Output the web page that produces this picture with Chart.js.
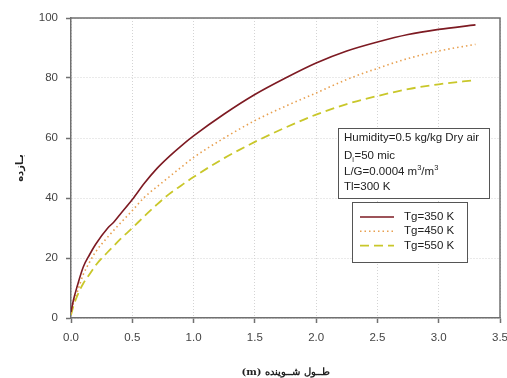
<!DOCTYPE html>
<html>
<head>
<meta charset="utf-8">
<script src="https://cdn.jsdelivr.net/npm/chart.js@4/dist/chart.umd.min.js"></script>
<style>
  html, body { margin: 0; padding: 0; background: #fff; }
  #wrap { width: 507px; height: 378px; }
</style>
</head>
<body>
<div id="wrap"><canvas id="c" width="507" height="378"></canvas></div>
<script>
// Scrubber length (m)
const lengthM = [0, 0.02, 0.05, 0.1, 0.15, 0.2, 0.3, 0.35, 0.4, 0.5, 0.6, 0.7, 0.8, 0.9, 1.0, 1.25, 1.5, 1.75, 2.0, 2.25, 2.5, 2.75, 3.0, 3.3];
// Efficiency (%) for each gas temperature
const eff350 = [2, 6, 10.5, 17, 21, 24.5, 30, 32, 34.5, 39.5, 45, 49.8, 53.8, 57.4, 60.7, 68, 74.5, 80, 85, 89, 92, 94.5, 96.2, 97.7];
const eff450 = [1.5, 5, 8.5, 14.5, 18.5, 22, 27, 29.3, 31.5, 35.8, 40.3, 43.7, 47, 50.3, 53.5, 60, 65.8, 70.6, 75, 79.5, 83.2, 86.5, 89, 91.2];
const eff550 = [1, 4, 7.3, 11.5, 14.5, 17.5, 22, 24.1, 26.2, 30, 34, 37.8, 41.3, 44.2, 47, 53.3, 58.7, 63.5, 67.8, 71.3, 74, 76.3, 77.9, 79.3];
const seriesLabels = ['Tg=350 K', 'Tg=450 K', 'Tg=550 K'];
const xTicks = [0, 0.5, 1.0, 1.5, 2.0, 2.5, 3.0, 3.5];
const yTicks = [0, 20, 40, 60, 80, 100];

const pts = ys => lengthM.map((x, i) => ({ x, y: ys[i] }));

const axisColor = '#707070';
const gridColor = '#d4d4d4';

// Frame on the top and right of the plot area
const framePlugin = {
  id: 'frame',
  afterDraw(chart) {
    const { ctx, chartArea: a } = chart;
    ctx.save();
    ctx.strokeStyle = axisColor;
    ctx.lineWidth = 1.5;
    ctx.beginPath();
    ctx.moveTo(a.left, a.top);
    ctx.lineTo(a.right, a.top);
    ctx.lineTo(a.right, a.bottom);
    ctx.stroke();
    ctx.restore();
  }
};

// Operating conditions box and the series key
const notesPlugin = {
  id: 'notes',
  afterDraw(chart) {
    const { ctx, chartArea: a } = chart;
    const font = '11.5px "Liberation Sans", Arial, sans-serif';
    const small = '7.5px "Liberation Sans", Arial, sans-serif';
    ctx.save();
    // conditions box
    const bx = a.left + 267, by = a.top + 110, bw = 151, bh = 70;
    ctx.fillStyle = '#fff';
    ctx.fillRect(bx, by, bw, bh);
    ctx.strokeStyle = '#555';
    ctx.lineWidth = 1;
    ctx.strokeRect(bx + 0.5, by + 0.5, bw, bh);
    ctx.fillStyle = '#222';
    ctx.textBaseline = 'middle';
    ctx.textAlign = 'left';
    ctx.font = font;
    const tx = bx + 6;
    ctx.fillText('Humidity=0.5 kg/kg Dry air', tx, by + 10);
    // D with subscript i
    let x = tx;
    ctx.fillText('D', x, by + 28);
    x += ctx.measureText('D').width;
    ctx.font = small;
    ctx.fillText('i', x, by + 32);
    x += ctx.measureText('i').width + 0.5;
    ctx.font = font;
    ctx.fillText('=50 mic', x, by + 28);
    // L/G with cubic metre superscripts
    x = tx;
    ctx.fillText('L/G=0.0004 m', x, by + 44);
    x += ctx.measureText('L/G=0.0004 m').width;
    ctx.font = small;
    ctx.fillText('3', x, by + 40);
    x += ctx.measureText('3').width;
    ctx.font = font;
    ctx.fillText('/m', x, by + 44);
    x += ctx.measureText('/m').width;
    ctx.font = small;
    ctx.fillText('3', x, by + 40);
    ctx.font = font;
    ctx.fillText('Tl=300 K', tx, by + 59);

    // series key
    const lx = a.left + 281, ly = a.top + 184, lw = 115, lh = 60;
    ctx.fillStyle = '#fff';
    ctx.fillRect(lx, ly, lw, lh);
    ctx.strokeStyle = '#555';
    ctx.strokeRect(lx + 0.5, ly + 0.5, lw, lh);
    chart.data.datasets.forEach((ds, i) => {
      const yy = ly + 15 + i * 14.3;
      ctx.save();
      ctx.strokeStyle = ds.borderColor;
      ctx.lineWidth = ds.borderWidth;
      ctx.setLineDash(ds.borderDash || []);
      ctx.beginPath();
      ctx.moveTo(lx + 8, yy);
      ctx.lineTo(lx + 42, yy);
      ctx.stroke();
      ctx.restore();
      ctx.fillStyle = '#222';
      ctx.font = font;
      ctx.fillText(ds.label, lx + 52, yy);
    });
    ctx.restore();
  }
};

new Chart(document.getElementById('c'), {
  type: 'scatter',
  data: {
    datasets: [
      { label: seriesLabels[0], data: pts(eff350), borderColor: '#7d1a22', borderWidth: 1.6, borderDash: [] },
      { label: seriesLabels[1], data: pts(eff450), borderColor: '#e8a050', borderWidth: 1.6, borderDash: [1.5, 3] },
      { label: seriesLabels[2], data: pts(eff550), borderColor: '#c9c72a', borderWidth: 1.8, borderDash: [9, 5] }
    ].map(d => Object.assign(d, {
      showLine: true,
      fill: false,
      pointRadius: 0,
      pointHoverRadius: 0,
      cubicInterpolationMode: 'monotone'
    }))
  },
  options: {
    responsive: false,
    animation: false,
    events: [],
    layout: { padding: { left: 0, right: 7, top: 18, bottom: 0 } },
    plugins: { legend: { display: false }, tooltip: { enabled: false } },
    scales: {
      x: {
        type: 'linear',
        min: 0, max: 3.5,
        afterBuildTicks(s) { s.ticks = xTicks.map(v => ({ value: v })); },
        afterFit(s) { s.height = 60; s.paddingRight = 0; s.paddingLeft = 0; },
        ticks: {
          color: '#444',
          font: { family: '"Liberation Sans", Arial, sans-serif', size: 11.5 },
          padding: 8,
          maxRotation: 0,
          callback: v => v.toFixed(1)
        },
        grid: { color: gridColor, lineWidth: 1, tickLength: 5, tickColor: axisColor, tickWidth: 1.5, tickBorderDash: [] },
        border: { color: axisColor, width: 1.5, dash: [1, 2] },
        title: {
          display: true,
          text: '\u202Bطــول شــوینده (m)\u202C',
          color: '#222',
          font: { family: '"DejaVu Serif", "Liberation Serif", serif', size: 10, weight: 'bold' },
          padding: { top: 7, bottom: 0 }
        }
      },
      y: {
        type: 'linear',
        min: 0, max: 100,
        afterBuildTicks(s) { s.ticks = yTicks.map(v => ({ value: v })); },
        afterFit(s) { s.width = 71; },
        ticks: {
          color: '#444',
          font: { family: '"Liberation Sans", Arial, sans-serif', size: 11.5 },
          padding: 8
        },
        grid: { color: gridColor, lineWidth: 1, tickLength: 5, tickColor: axisColor, tickWidth: 1.5, tickBorderDash: [] },
        border: { color: axisColor, width: 1.5, dash: [1, 2] },
        title: {
          display: true,
          text: 'بـازده',
          color: '#222',
          font: { family: '"DejaVu Sans", sans-serif', size: 10, weight: 'bold' },
          padding: { top: 14, bottom: 0 }
        }
      }
    }
  },
  plugins: [framePlugin, notesPlugin]
});
</script>
</body>
</html>
